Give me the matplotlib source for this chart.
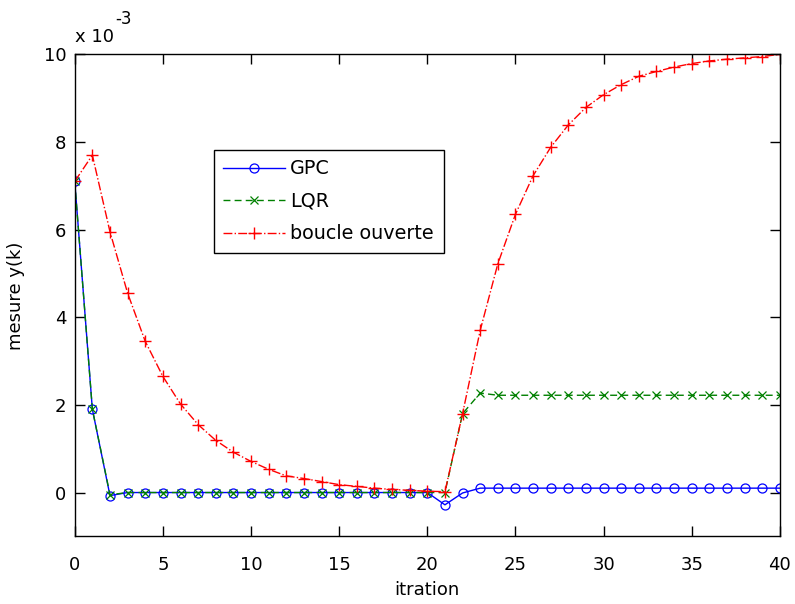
import matplotlib
matplotlib.use("Agg")
import matplotlib.pyplot as plt
from matplotlib.ticker import FuncFormatter

plt.rcParams['font.family'] = ['DejaVu Sans']

# valeurs, en unites de 1e-3
iterations = list(range(41))
gpc = [7.1, 1.9, -0.07] + [0.0] * 18 + [-0.28, -0.01] + [0.1] * 18
lqr = [7.1, 1.9, -0.05] + [0.0] * 19 + [1.8, 2.27] + [2.22] * 17
boucle = [7.1, 7.7, 5.95, 4.55, 3.45, 2.65, 2.02, 1.55, 1.19, 0.92,
          0.71, 0.53, 0.38, 0.32, 0.25, 0.18, 0.14, 0.1, 0.07, 0.05,
          0.03, 0.02, 1.8, 3.7, 5.22, 6.35, 7.23, 7.88, 8.39, 8.79,
          9.08, 9.31, 9.5, 9.61, 9.71, 9.79, 9.85, 9.89, 9.92, 9.95, 10.0]
scale = 1e-3

fig = plt.figure(figsize=(7.95, 6.04), dpi=100)
ax = fig.add_axes([0.094, 0.112, 0.887, 0.798])

ax.plot(iterations, [v * scale for v in gpc], color=(0, 0, 1), ls='-', lw=1,
        marker='o', ms=6.5, mfc='none', mew=0.9, label='GPC')
ax.plot(iterations, [v * scale for v in lqr], color=(0, 0.5, 0), ls=(0, (5, 3)), lw=1,
        marker='x', ms=6, mew=0.9, label='LQR')
ax.plot(iterations, [v * scale for v in boucle], color=(1, 0, 0), ls='-.', lw=1,
        marker='+', ms=8, mew=1, label='boucle ouverte')

ax.set_xlim(0, 40)
ax.set_ylim(-1e-3, 10e-3)
ax.set_xticks(range(0, 41, 5))
ax.set_yticks([0, 2e-3, 4e-3, 6e-3, 8e-3, 10e-3])
ax.yaxis.set_major_formatter(FuncFormatter(lambda v, p: '%d' % round(v / scale)))
ax.tick_params(direction='in', top=True, right=True, labelsize=13, length=7, width=1)
ax.tick_params(axis='x', pad=14)
ax.tick_params(axis='y', pad=6)
for s in ax.spines.values():
    s.set_linewidth(1)

ax.set_xlabel('itration', fontsize=13)
ax.set_ylabel('mesure y(k)', fontsize=13)
ax.xaxis.set_label_coords(0.5, -0.092)
ax.yaxis.set_label_coords(-0.071, 0.5)

ax.text(0.0, 1.018, 'x 10', transform=ax.transAxes, fontsize=13, ha='left', va='bottom')
ax.text(0.057, 1.055, '-3', transform=ax.transAxes, fontsize=12, ha='left', va='bottom')

leg = ax.legend(loc='upper left', bbox_to_anchor=(0.197, 0.802), fontsize=13.8,
                frameon=True, fancybox=False, edgecolor='black', framealpha=1,
                handlelength=3.2, borderpad=0.5, labelspacing=0.7, handletextpad=0.3,
                borderaxespad=0)
leg.get_frame().set_linewidth(1)

plt.savefig('out.png', dpi=100)
